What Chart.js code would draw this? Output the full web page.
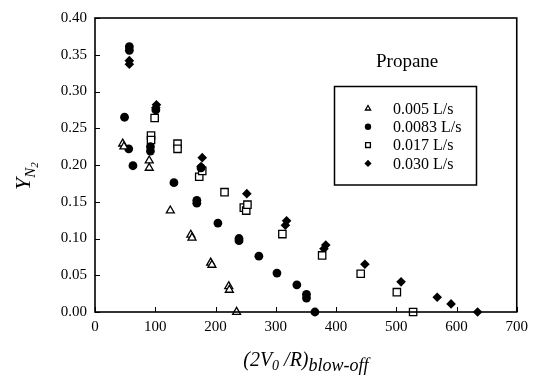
<!DOCTYPE html>
<html><head><meta charset="utf-8">
<script src="https://cdn.jsdelivr.net/npm/chart.js@4/dist/chart.umd.min.js"></script>
<style>html,body{margin:0;padding:0;background:#fff}#wrap{width:534px;height:377px;position:relative}</style>
</head><body><div id="wrap"><canvas id="c"></canvas></div>
<script>
// ---- data ----
const seriesLabels = ['0.005 L/s', '0.0083 L/s', '0.017 L/s', '0.030 L/s'];
const legendTitle = 'Propane';
const xTicks = [0, 100, 200, 300, 400, 500, 600, 700];
const yTicks = [0.00, 0.05, 0.10, 0.15, 0.20, 0.25, 0.30, 0.35, 0.40];

const triX = [46, 48, 90, 90, 125, 159, 161, 192, 194, 222, 223, 235];
const triY = [0.229, 0.225, 0.206, 0.196, 0.138, 0.105, 0.101, 0.067, 0.064, 0.035, 0.030, 0.000];

const circX = [49, 56, 63, 57, 57, 92, 92, 101, 131, 169, 169, 176, 204, 239, 239, 272, 302, 335, 351, 351, 365];
const circY = [0.265, 0.222, 0.199, 0.361, 0.356, 0.225, 0.219, 0.275, 0.176, 0.152, 0.148, 0.196, 0.121, 0.100, 0.097, 0.076, 0.053, 0.037, 0.024, 0.019, 0.000];

const sqX = [93, 93, 99, 137, 137, 173, 178, 215, 247, 251, 253, 311, 377, 441, 501, 528];
const sqY = [0.240, 0.234, 0.264, 0.229, 0.222, 0.184, 0.192, 0.163, 0.142, 0.138, 0.146, 0.106, 0.077, 0.052, 0.027, 0.000];

const diaX = [57, 57, 102, 101, 178, 176, 252, 318, 316, 383, 380, 448, 508, 568, 591, 635];
const diaY = [0.342, 0.337, 0.282, 0.278, 0.210, 0.198, 0.161, 0.124, 0.118, 0.091, 0.086, 0.065, 0.041, 0.020, 0.011, 0.000];

const pts = (xs, ys) => xs.map((x, i) => ({x: x, y: ys[i]}));

const SERIF = '"Liberation Serif", "DejaVu Serif", serif';

const styles = [
  {pointStyle: 'triangle', radius: 4.6, fill: '#fff', lw: 1.3, lr: 3},
  {pointStyle: 'circle', radius: 4.4, fill: '#000', lw: 0, lr: 3.2},
  {pointStyle: 'rect', radius: 5.2, fill: '#fff', lw: 1.3, lr: 3.4},
  {pointStyle: 'rectRot', radius: 4.8, fill: '#000', lw: 0, lr: 3.6}
];
const allData = [pts(triX, triY), pts(circX, circY), pts(sqX, sqY), pts(diaX, diaY)];

const datasets = allData.map((d, i) => ({
  label: seriesLabels[i],
  data: d,
  showLine: false,
  pointStyle: styles[i].pointStyle,
  pointRadius: styles[i].radius,
  pointHoverRadius: styles[i].radius,
  pointBackgroundColor: styles[i].fill,
  pointBorderColor: '#000',
  pointBorderWidth: styles[i].lw,
  clip: false
}));

const decor = {
  id: 'decor',
  afterDraw(chart) {
    const ctx = chart.ctx, a = chart.chartArea;
    const xs = chart.scales.x, ys = chart.scales.y;
    ctx.save();
    ctx.strokeStyle = '#000';
    ctx.lineWidth = 1.6;
    ctx.strokeRect(a.left, a.top, a.right - a.left, a.bottom - a.top);
    ctx.lineWidth = 1;
    ctx.beginPath();
    xTicks.forEach(v => { const p = Math.round(xs.getPixelForValue(v)) + 0.5; ctx.moveTo(p, a.bottom); ctx.lineTo(p, a.bottom - 5); });
    yTicks.forEach(v => { const p = Math.round(ys.getPixelForValue(v)) + 0.5; ctx.moveTo(a.left, p); ctx.lineTo(a.left + 5, p); });
    ctx.stroke();

    // Propane title
    ctx.fillStyle = '#000';
    ctx.font = '19px ' + SERIF;
    ctx.textAlign = 'left';
    ctx.textBaseline = 'alphabetic';
    ctx.fillText(legendTitle, 376, 67);

    // legend box
    ctx.lineWidth = 1.5;
    ctx.strokeRect(334.5, 86.5, 142, 98.5);
    ctx.font = '16px ' + SERIF;
    ctx.textBaseline = 'middle';
    seriesLabels.forEach((lab, i) => {
      const y = 108.5 + i * 18.3;
      ctx.fillStyle = styles[i].fill;
      ctx.strokeStyle = '#000';
      ctx.lineWidth = styles[i].lw || 1;
      Chart.helpers.drawPoint(ctx, {pointStyle: styles[i].pointStyle, radius: styles[i].lr, rotation: 0, borderWidth: styles[i].lw || 0}, 368, y);
      ctx.fillStyle = '#000';
      ctx.fillText(lab, 393, y + 1);
    });

    // x title
    ctx.textBaseline = 'alphabetic';
    const parts = [
      {t: '(2V', f: 'italic 20px ' + SERIF, dy: 0},
      {t: '0', f: 'italic 14px ' + SERIF, dy: 4},
      {t: ' /R)', f: 'italic 20px ' + SERIF, dy: 0},
      {t: 'blow-off', f: 'italic 18px ' + SERIF, dy: 5}
    ];
    let w = 0;
    parts.forEach(p => { ctx.font = p.f; w += ctx.measureText(p.t).width; });
    let x = (a.left + a.right) / 2 - w / 2;
    parts.forEach(p => { ctx.font = p.f; ctx.fillText(p.t, x, 366 + p.dy); x += ctx.measureText(p.t).width; });

    // y title
    ctx.save();
    ctx.translate(30, 190);
    ctx.rotate(-Math.PI / 2);
    const yp = [
      {t: 'Y', f: 'italic 22px ' + SERIF, dy: 0},
      {t: 'N', f: 'italic 15px ' + SERIF, dy: 5},
      {t: '2', f: 'italic 11px ' + SERIF, dy: 8}
    ];
    let yx = 0;
    yp.forEach(p => { ctx.font = p.f; ctx.fillText(p.t, yx, p.dy); yx += ctx.measureText(p.t).width; });
    ctx.restore();
    ctx.restore();
  }
};

new Chart(document.getElementById('c'), {
  type: 'scatter',
  data: {datasets: datasets},
  options: {
    responsive: true,
    maintainAspectRatio: false,
    animation: false,
    layout: {padding: {top: 18, right: 14, left: 0, bottom: 0}},
    plugins: {legend: {display: false}, tooltip: {enabled: false}},
    scales: {
      x: {
        type: 'linear', min: 0, max: 700,
        afterBuildTicks: s => { s.ticks = xTicks.map(v => ({value: v})); },
        afterFit: s => { s.height = 65; },
        grid: {display: false, drawTicks: false},
        border: {display: false},
        ticks: {color: '#000', padding: 6, font: {family: SERIF, size: 15}, callback: v => String(v)}
      },
      y: {
        type: 'linear', min: 0, max: 0.4,
        afterBuildTicks: s => { s.ticks = yTicks.map(v => ({value: v})); },
        afterFit: s => { s.width = 95; },
        grid: {display: false, drawTicks: false},
        border: {display: false},
        ticks: {color: '#000', padding: 8, font: {family: SERIF, size: 15}, callback: v => Number(v).toFixed(2)}
      }
    }
  },
  plugins: [decor]
});
</script>
</body></html>
